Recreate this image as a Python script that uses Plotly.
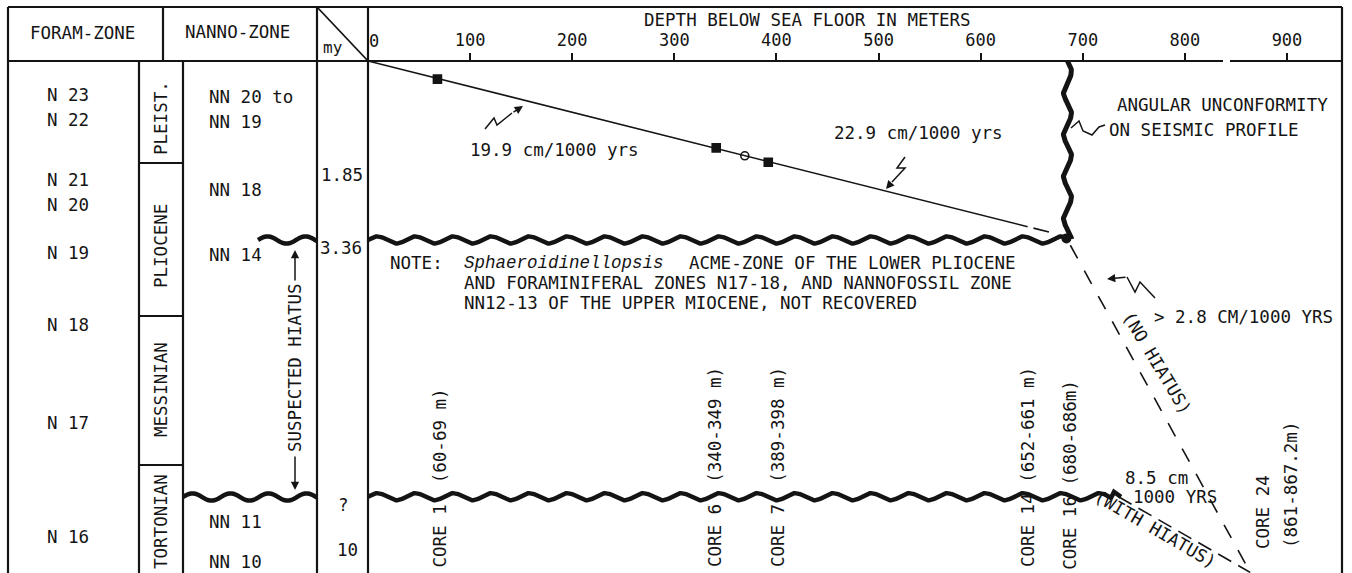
import numpy as np
import plotly.graph_objects as go

# ---------------------------------------------------------------------------
# Figure geometry (pixels) and scales
# ---------------------------------------------------------------------------
W, H = 1352, 573
INK = "#141414"
MONO = "DejaVu Sans Mono"
FS = 17.5

X0, X1 = 368, 1342          # depth panel left / right edge
Y_AXIS = 61                 # depth axis line (age 0)
PX_PER_M = 1.0211           # horizontal scale, pixels per metre
PX_PER_MY = 53.27           # vertical scale, pixels per million years

DEPTH_MAX = (X1 - X0) / PX_PER_M
AGE_TOP = -Y_AXIS / PX_PER_MY
AGE_BOTTOM = (H - Y_AXIS) / PX_PER_MY

# ---------------------------------------------------------------------------
# Data
# ---------------------------------------------------------------------------
depth_ticks = [0, 100, 200, 300, 400, 500, 600, 700, 800, 900]

# sedimentation trend (depth m, age my); solid to 646 m, projected beyond
trend_depth = [0, 646, 685]
trend_age = [0.0, 3.11, 3.30]

# dated samples on the trend
sample_depth = [68, 341, 369, 392]
sample_age = [0.34, 1.63, 1.78, 1.90]
sample_symbol = ["square", "square", "circle-open", "square"]

# unconformities
upper_unconf_age = 3.36
upper_unconf_depth = [0, 683]
lower_unconf_level = 8.18
lower_unconf_depth = [0, 727]
angular_unconf_depth = 685
angular_unconf_age = [0.0, 3.33]

# alternative rate lines to core 24
no_hiatus_depth = [685, 864]
no_hiatus_age = [3.36, 9.60]
with_hiatus_depth = [735, 864]
with_hiatus_age = [8.18, 9.60]

# cored intervals
core_names = ["CORE 1", "CORE 6", "CORE 7", "CORE 14", "CORE 16"]
core_ranges = ["(60-69 m)", "(340-349 m)", "(389-398 m)", "(652-661 m)", "(680-686m)"]

foram_zones = [("N 23", 95), ("N 22", 120), ("N 21", 180), ("N 20", 205),
               ("N 19", 253), ("N 18", 325), ("N 17", 423), ("N 16", 537)]
epochs = [("PLEIST.", 118), ("PLIOCENE", 246), ("MESSINIAN", 390), ("TORTONIAN", 522)]
nanno_zones = [("NN 20 to", 97), ("NN 19", 122), ("NN 18", 190), ("NN 14", 255),
               ("NN 11", 522), ("NN 10", 562)]
age_labels = [("1.85", 342, 175), ("3.36", 341, 248), ("?", 343, 505), ("10", 347, 550)]


# ---------------------------------------------------------------------------
# helpers
# ---------------------------------------------------------------------------
def px(x):
    return x / W


def py(y):
    return 1 - y / H


def d2x(d):
    return X0 + np.asarray(d, dtype=float) * PX_PER_M


def a2y(a):
    return Y_AXIS + np.asarray(a, dtype=float) * PX_PER_MY


def x2d(x):
    return (np.asarray(x, dtype=float) - X0) / PX_PER_M


def y2a(y):
    return (np.asarray(y, dtype=float) - Y_AXIS) / PX_PER_MY


def wave_h_px(x0, x1, y0, amp=3.6, period=38.0, step=1.0):
    xs = np.arange(x0, x1 + step, step)
    ys = y0 + amp * np.sin(2 * np.pi * (xs - x0) / period + np.pi)
    return xs, ys


def wave_v_px(x0, y0, y1, amp=4.0, period=42.0, step=1.0):
    ys = np.arange(y0, y1 + step, step)
    xs = x0 + amp * np.sin(2 * np.pi * (ys - y0) / period)
    return xs, ys


fig = go.Figure()

# sedimentation trend
fig.add_trace(go.Scatter(x=trend_depth[:2], y=trend_age[:2], mode="lines",
                         line=dict(color=INK, width=1.6), hoverinfo="skip"))
fig.add_trace(go.Scatter(x=trend_depth[1:], y=trend_age[1:], mode="lines",
                         line=dict(color=INK, width=1.6, dash="0px,6px,16px,40px"),
                         hoverinfo="skip"))

# samples
fig.add_trace(go.Scatter(x=sample_depth, y=sample_age, mode="markers",
                         marker=dict(symbol=sample_symbol, size=8, color=INK,
                                     line=dict(color=INK, width=1.6)),
                         hoverinfo="skip"))

# upper (Pliocene) unconformity
xs, ys = wave_h_px(float(d2x(upper_unconf_depth[0])), float(d2x(upper_unconf_depth[1])),
                   float(a2y(upper_unconf_age)))
fig.add_trace(go.Scatter(x=x2d(xs), y=y2a(ys), mode="lines",
                         line=dict(color=INK, width=4.5), hoverinfo="skip"))

# lower (Miocene) unconformity
xs, ys = wave_h_px(float(d2x(lower_unconf_depth[0])), float(d2x(lower_unconf_depth[1])),
                   float(a2y(lower_unconf_level)))
xs = np.append(xs, [xs[-1] + 3, xs[-1] + 10])
ys = np.append(ys, [ys[-1] - 6, ys[-1] - 1])
fig.add_trace(go.Scatter(x=x2d(xs), y=y2a(ys), mode="lines",
                         line=dict(color=INK, width=4.5), hoverinfo="skip"))

# angular unconformity (vertical)
xs, ys = wave_v_px(float(d2x(angular_unconf_depth)), float(a2y(angular_unconf_age[0])),
                   float(a2y(angular_unconf_age[1])))
fig.add_trace(go.Scatter(x=x2d(xs), y=y2a(ys), mode="lines",
                         line=dict(color=INK, width=5), hoverinfo="skip"))
fig.add_trace(go.Scatter(x=[angular_unconf_depth - 1], y=[angular_unconf_age[1]],
                         mode="markers", marker=dict(symbol="circle", size=10, color=INK),
                         hoverinfo="skip"))

# alternative rate lines
fig.add_trace(go.Scatter(x=no_hiatus_depth, y=no_hiatus_age, mode="lines",
                         line=dict(color=INK, width=1.6, dash="0px,6px,15px,8px"),
                         hoverinfo="skip"))
fig.add_trace(go.Scatter(x=with_hiatus_depth, y=with_hiatus_age, mode="lines",
                         line=dict(color=INK, width=1.6, dash="15px,8px"),
                         hoverinfo="skip"))

# ---------------------------------------------------------------------------
# table frame
# ---------------------------------------------------------------------------
shapes = []


def seg(x0, y0, x1, y1, w=2.2):
    shapes.append(dict(type="line", xref="paper", yref="paper",
                       x0=px(x0), y0=py(y0), x1=px(x1), y1=py(y1),
                       line=dict(color=INK, width=w)))


def poly(points, w=1.5):
    path = "M " + " L ".join(f"{px(x):.5f},{py(y):.5f}" for x, y in points)
    shapes.append(dict(type="path", xref="paper", yref="paper", path=path,
                       line=dict(color=INK, width=w)))


seg(8, 7, 1342, 7)
seg(8, 7, 8, H + 2)
seg(1342, 7, 1342, H + 2)
seg(8, 61, 368, 61)
seg(163, 7, 163, 61)
seg(139, 61, 139, H + 2)
seg(183, 61, 183, H + 2)
seg(317, 7, 317, H + 2)
seg(368, 7, 368, H + 2)
seg(139, 163, 183, 163)
seg(139, 316, 183, 316)
seg(139, 465, 183, 465)
seg(317, 7, 368, 61, w=1.8)

# small break in the depth axis line
shapes.append(dict(type="rect", xref="paper", yref="paper", layer="above",
                   x0=px(1223), x1=px(1230), y0=py(64), y1=py(58),
                   line=dict(width=0), fillcolor="white"))

# unconformities in the nannofossil column
for (x0, x1, y0) in [(258, 317, 240), (183, 317, 497)]:
    xs, ys = wave_h_px(x0, x1, y0)
    path = "M " + " L ".join(f"{px(x):.5f},{py(y):.5f}" for x, y in zip(xs, ys))
    shapes.append(dict(type="path", xref="paper", yref="paper", path=path,
                       line=dict(color=INK, width=4.5)))

# leader squiggles
poly([(485, 129), (494, 118), (497, 125), (512, 113)])
poly([(905, 157), (897, 168), (905, 168), (892, 182)])
poly([(1071, 128), (1079, 121), (1083, 131), (1092, 135), (1099, 127), (1105, 125)])
poly([(1155, 298), (1140, 282), (1135, 292), (1127, 277)])

# ---------------------------------------------------------------------------
# text
# ---------------------------------------------------------------------------
annotations = []


def text(t, x, y, size=FS, xanchor="center", yanchor="middle", angle=0, family=MONO):
    annotations.append(dict(text=t, x=px(x), y=py(y), xref="paper", yref="paper",
                            showarrow=False, xanchor=xanchor, yanchor=yanchor,
                            textangle=angle, font=dict(family=family, size=size, color=INK)))


def arrow(x_tip, y_tip, x_tail, y_tail, w=1.5):
    annotations.append(dict(text="", x=px(x_tip), y=py(y_tip), xref="paper", yref="paper",
                            ax=x_tail - x_tip, ay=y_tail - y_tip, showarrow=True,
                            arrowhead=2, arrowsize=1.1, arrowwidth=w, arrowcolor=INK))


text("FORAM-ZONE", 82, 33)
text("NANNO-ZONE", 237, 32)
text("my", 333, 47, size=16)
text("DEPTH BELOW SEA FLOOR IN METERS", 642, 20, xanchor="left")
text("0", 374, 41, size=17)

for label, y in foram_zones:
    text(label, 68, y)
for label, y in epochs:
    text(label, 161, y, angle=-90)
for label, y in nanno_zones:
    text(label, 207, y, xanchor="left")
for label, x, y in age_labels:
    text(label, x, y)

text("SUSPECTED HIATUS", 295, 368, angle=-90)
arrow(295, 250, 295, 282)
arrow(295, 490, 295, 455)

text("19.9 cm/1000 yrs", 468, 150, xanchor="left")
arrow(523, 106, 512, 113)
text("22.9 cm/1000 yrs", 832, 133, xanchor="left")
arrow(886, 189, 892, 182)
text("ANGULAR UNCONFORMITY", 1115, 105, xanchor="left")
text("ON SEISMIC PROFILE", 1107, 130, xanchor="left")

text("NOTE:", 388, 263, xanchor="left")
text("<i>Sphaeroidinellopsis</i>", 462, 263, xanchor="left", family="Liberation Mono")
text("ACME-ZONE OF THE LOWER PLIOCENE", 687, 263, xanchor="left")
text("AND FORAMINIFERAL ZONES N17-18, AND NANNOFOSSIL ZONE", 462, 283, xanchor="left")
text("NN12-13 OF THE UPPER MIOCENE, NOT RECOVERED", 462, 303, xanchor="left")

text("> 2.8 CM/1000 YRS", 1152, 317, xanchor="left")
arrow(1107, 279, 1127, 277)
text("(NO HIATUS)", 1157, 363, angle=59)
text("8.5 cm", 1123, 478, xanchor="left")
text("1000 YRS", 1131, 497, xanchor="left")
text("(WITH HIATUS)", 1155, 529, angle=30)
text("CORE 24", 1263, 512, angle=-90)
text("(861-867.2m)", 1291, 485, angle=-90)

# vertical core labels, read upward from the bottom edge
cw = 0.602 * FS
core_x = [440, 715, 778, 1028, 1070]
core_top = [389, 367, 367, 367, 380]
core_gap = [2, 2, 2, 1, 1]
for name, rng, x, top, gap in zip(core_names, core_ranges, core_x, core_top, core_gap):
    label = name + "\u00a0" * gap + rng
    text(label, x, top + len(label) * cw / 2, angle=-90)

fig.update_layout(
    width=W, height=H, autosize=False,
    margin=dict(l=0, r=0, t=0, b=0),
    paper_bgcolor="white", plot_bgcolor="white",
    showlegend=False,
    shapes=shapes, annotations=annotations,
    xaxis=dict(domain=[px(X0), px(X1)], range=[0, DEPTH_MAX],
               anchor="free", position=py(Y_AXIS), side="top",
               tickmode="array", tickvals=depth_ticks,
               ticktext=["" if v == 0 else str(v) for v in depth_ticks],
               ticks="outside", ticklen=7, tickwidth=2, tickcolor=INK,
               showline=True, linecolor=INK, linewidth=2.2,
               showgrid=False, zeroline=False,
               tickfont=dict(family=MONO, size=17, color=INK)),
    yaxis=dict(domain=[0, 1], range=[AGE_BOTTOM, AGE_TOP], visible=False),
)

fig.write_html("out.html")
